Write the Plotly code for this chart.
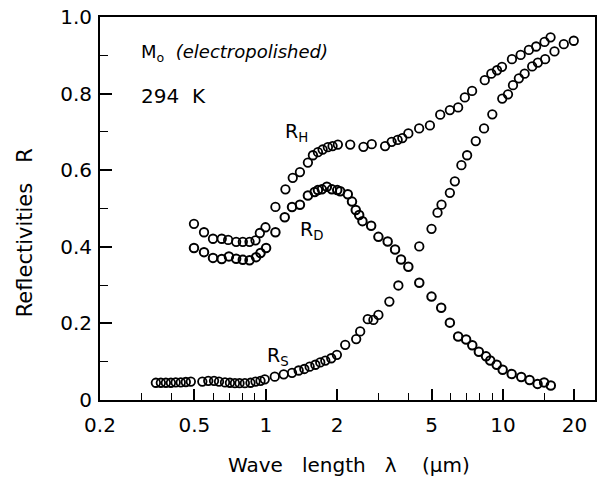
import plotly.graph_objects as go

# ---- data (wavelength in um, reflectivity) ----
rh_x = [0.498, 0.549, 0.599, 0.652, 0.694, 0.750, 0.800, 0.854, 0.905, 0.944, 0.997,
        1.098, 1.210, 1.299, 1.393, 1.505, 1.580, 1.659, 1.736, 1.827, 1.912, 2.013,
        2.270, 2.581, 2.797, 3.184, 3.394, 3.597, 3.764, 3.990, 4.432, 4.920, 5.437,
        5.972, 6.471, 6.905, 7.409, 8.379, 8.930, 9.437, 9.904, 10.91, 11.87, 12.86,
        13.80, 14.97, 15.87]
rh_y = [0.460, 0.438, 0.421, 0.421, 0.418, 0.413, 0.413, 0.413, 0.417, 0.436, 0.451,
        0.504, 0.550, 0.580, 0.595, 0.620, 0.639, 0.647, 0.654, 0.660, 0.663, 0.667,
        0.667, 0.661, 0.668, 0.663, 0.674, 0.679, 0.684, 0.696, 0.709, 0.717, 0.745,
        0.757, 0.764, 0.790, 0.807, 0.835, 0.852, 0.861, 0.870, 0.890, 0.901, 0.914,
        0.923, 0.935, 0.947]

rd_x = [0.498, 0.549, 0.599, 0.652, 0.699, 0.750, 0.800, 0.854, 0.910, 0.950, 1.003,
        1.098, 1.202, 1.290, 1.393, 1.505, 1.607, 1.659, 1.724, 1.809, 1.899, 2.001,
        2.060, 2.217, 2.309, 2.395, 2.476, 2.556, 2.781, 2.984, 3.265, 3.508, 3.717,
        3.990, 4.437, 4.997, 5.490, 5.972, 6.471, 6.992, 7.423, 7.913, 8.483, 8.837,
        9.409, 9.97, 10.88, 11.94, 12.95, 13.99, 14.91, 15.91]
rd_y = [0.397, 0.386, 0.371, 0.368, 0.375, 0.369, 0.366, 0.365, 0.373, 0.384, 0.397,
        0.438, 0.477, 0.504, 0.510, 0.534, 0.543, 0.548, 0.550, 0.557, 0.550, 0.548,
        0.545, 0.537, 0.518, 0.496, 0.483, 0.467, 0.455, 0.426, 0.414, 0.393, 0.367,
        0.348, 0.306, 0.270, 0.241, 0.202, 0.166, 0.158, 0.143, 0.126, 0.114, 0.103,
        0.092, 0.079, 0.068, 0.060, 0.052, 0.042, 0.046, 0.038]

rs_x = [0.344, 0.361, 0.379, 0.398, 0.417, 0.438, 0.460, 0.483, 0.540, 0.572, 0.605,
        0.635, 0.673, 0.706, 0.741, 0.775, 0.816, 0.862, 0.905, 0.950, 0.990, 1.091,
        1.190, 1.290, 1.376, 1.454, 1.531, 1.618, 1.697, 1.782, 1.888, 1.994, 2.162,
        2.405, 2.500, 2.691, 2.843, 2.984, 3.319, 3.622, 4.437, 4.997, 5.297, 5.507,
        5.972, 6.267, 6.679, 7.060, 7.679, 8.322, 9.017, 9.93, 10.50, 11.02, 11.67,
        12.34, 13.28, 14.03, 15.06, 16.49, 18.05, 19.88]
rs_y = [0.045, 0.045, 0.045, 0.045, 0.046, 0.046, 0.047, 0.048, 0.048, 0.050, 0.050,
        0.048, 0.046, 0.045, 0.044, 0.044, 0.044, 0.045, 0.048, 0.050, 0.054, 0.061,
        0.067, 0.071, 0.077, 0.081, 0.087, 0.092, 0.098, 0.103, 0.109, 0.118, 0.144,
        0.159, 0.179, 0.211, 0.209, 0.222, 0.257, 0.299, 0.401, 0.447, 0.489, 0.510,
        0.541, 0.571, 0.613, 0.639, 0.676, 0.709, 0.746, 0.787, 0.798, 0.822, 0.840,
        0.852, 0.871, 0.881, 0.890, 0.910, 0.929, 0.938]

x_major = [0.2, 0.5, 1, 2, 5, 10, 20]
x_major_text = ["0.2", "0.5", "1", "2", "5", "10", "20"]
x_minor = [0.3, 0.4, 0.6, 0.7, 0.8, 0.9, 3, 4, 6, 7, 8, 9, 15]
y_major = [0, 0.2, 0.4, 0.6, 0.8, 1.0]
y_major_text = ["0", "0.2", "0.4", "0.6", "0.8", "1.0"]
y_minor = [0.1, 0.3, 0.5, 0.7, 0.9]

FONT = "DejaVu Sans, Liberation Sans, sans-serif"

fig = go.Figure()
for xs, ys, lw in [(rh_x, rh_y, 1.8), (rd_x, rd_y, 2.0), (rs_x, rs_y, 1.8)]:
    fig.add_trace(go.Scatter(
        x=xs, y=ys, mode="markers",
        marker=dict(symbol="circle-open", size=8.5, color="black", line=dict(width=lw, color="black")),
        showlegend=False, hoverinfo="skip"))

fig.update_xaxes(
    type="log", range=[-0.699, 1.388],
    tickvals=x_major, ticktext=x_major_text,
    ticks="inside", ticklen=11, tickwidth=1.5, tickcolor="black",
    minor=dict(tickvals=x_minor, ticks="inside", ticklen=7, tickwidth=1.2, tickcolor="black"),
    showline=True, linecolor="black", linewidth=2, mirror=True,
    showgrid=False, zeroline=False, ticklabelstandoff=6,
    tickfont=dict(family=FONT, size=20, color="black"),
)
fig.update_yaxes(
    range=[0, 1.0],
    tickvals=y_major, ticktext=y_major_text,
    ticks="inside", ticklen=12, tickwidth=1.5, tickcolor="black",
    minor=dict(tickvals=y_minor, ticks="inside", ticklen=8, tickwidth=1.2, tickcolor="black"),
    showline=True, linecolor="black", linewidth=2, mirror=True,
    showgrid=False, zeroline=False, ticklabelstandoff=2,
    tickfont=dict(family=FONT, size=20, color="black"),
)

def px2paper(px, py):
    return (px - 100) / 497, (400 - py) / 383

annots = [
    ("M<sub>o</sub>  <i>(electropolished)</i>", 139, 53, 18, "left", 0),
    ("294  K", 139, 96, 20, "left", 0),
    ("R<sub>H</sub>", 284, 132, 19, "left", 0),
    ("R<sub>D</sub>", 299, 230, 19, "left", 0),
    ("R<sub>S</sub>", 266, 356, 19, "left", 0),
    ("Wave   length   λ    (μm)", 350, 465, 20, "center", 0),
    ("Reflectivities   R", 25, 233, 21, "center", -90),
]
for txt, px, py, sz, xa, ang in annots:
    ax, ay = px2paper(px, py)
    fig.add_annotation(x=ax, y=ay, xref="paper", yref="paper", text=txt, showarrow=False,
                       xanchor=xa, yanchor="middle", textangle=ang,
                       font=dict(family=FONT, size=sz, color="black"))

fig.update_layout(
    width=598, height=487,
    margin=dict(l=100, r=1, t=17, b=87),
    paper_bgcolor="white", plot_bgcolor="white",
    font=dict(family=FONT, color="black"),
)
fig.write_html("out.html")
